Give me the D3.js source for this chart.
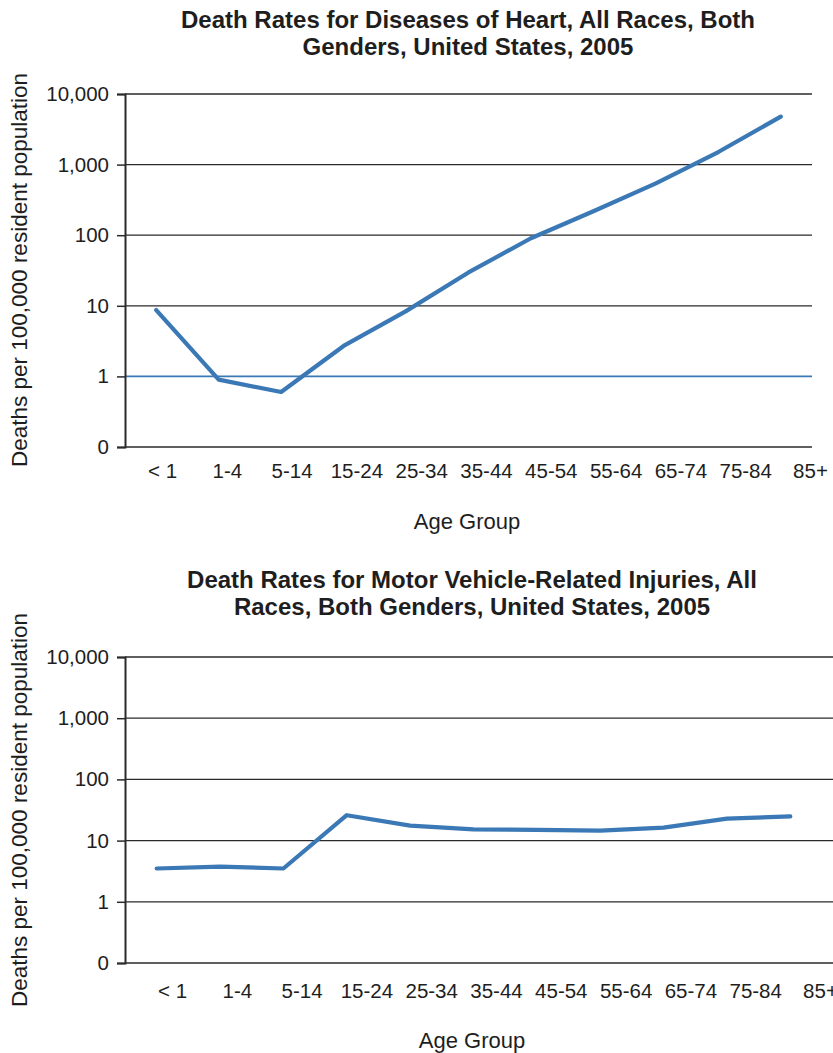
<!DOCTYPE html>
<html>
<head>
<meta charset="utf-8">
<script src="https://cdn.jsdelivr.net/npm/d3@7"></script>
<style>
  html, body { margin: 0; padding: 0; background: #fff; }
  svg { display: block; font-family: "Liberation Sans", Arial, Helvetica, sans-serif; }
</style>
</head>
<body>
<svg id="chart" width="833" height="1053"></svg>
<script>
// ---- Data ----
const ageGroups = ["< 1", "1-4", "5-14", "15-24", "25-34", "35-44", "45-54", "55-64", "65-74", "75-84", "85+"];
const heartRates = [8.7, 0.9, 0.6, 2.7, 8.4, 29.7, 90.5, 218.6, 541.1, 1506.3, 4778.4];
const motorRates = [3.5, 3.75, 3.5, 26.0, 17.6, 15.2, 15.0, 14.6, 16.3, 22.8, 24.8];
const yTickValues = [0.1, 1, 10, 100, 1000, 10000];
const yTickLabels = ["0", "1", "10", "100", "1,000", "10,000"];
const heartTitle = ["Death Rates for Diseases of Heart, All Races, Both", "Genders, United States, 2005"];
const motorTitle = ["Death Rates for Motor Vehicle-Related Injuries, All", "Races, Both Genders, United States, 2005"];
const yAxisTitle = "Deaths per 100,000 resident population";
const xAxisTitle = "Age Group";

const svg = d3.select("#chart");
const LINE_COLOR = "#3b78b6";
const GRID_COLOR = "#2a2a2a";
const TEXT_COLOR = "#1e1e1e";

function drawPanel(cfg) {
  const g = svg.append("g");
  const x = d3.scaleBand().domain(ageGroups).range([cfg.left, cfg.lineRight]);
  const xLab = d3.scalePoint().domain(ageGroups).range(cfg.labelRange);
  const y = d3.scaleLog().domain([0.1, 10000]).range([cfg.bottom, cfg.top]);

  // title
  g.append("text")
    .attr("x", cfg.titleX).attr("y", cfg.titleY)
    .attr("text-anchor", "middle")
    .attr("font-weight", "bold").attr("font-size", 24)
    .attr("fill", TEXT_COLOR)
    .selectAll("tspan").data(cfg.title).join("tspan")
    .attr("x", cfg.titleX).attr("dy", (d, i) => i === 0 ? 0 : 27)
    .text(d => d);

  // gridlines
  g.append("g").selectAll("line").data(yTickValues).join("line")
    .attr("x1", cfg.left).attr("x2", cfg.gridRight)
    .attr("y1", d => y(d)).attr("y2", d => y(d))
    .attr("stroke", d => (cfg.blueOne && d === 1) ? LINE_COLOR : GRID_COLOR)
    .attr("stroke-width", d => (cfg.blueOne && d === 1) ? 1.6 : 1.3);

  // y axis
  const yAxis = d3.axisLeft(y).tickValues(yTickValues)
    .tickFormat((d, i) => yTickLabels[i]).tickSize(8).tickPadding(8);
  const ya = g.append("g").attr("transform", `translate(${cfg.left},0)`).call(yAxis);
  ya.select(".domain").attr("stroke", GRID_COLOR).attr("stroke-width", 2);
  ya.selectAll(".tick line").attr("stroke", GRID_COLOR).attr("stroke-width", 1.5);
  ya.selectAll(".tick text").attr("font-size", 20.5).attr("fill", TEXT_COLOR)
    .attr("font-family", "'Liberation Sans', Arial, sans-serif");

  // x labels
  const xAxis = d3.axisBottom(xLab).tickSize(0).tickPadding(0);
  const xa = g.append("g").attr("transform", `translate(0,${cfg.bottom})`).call(xAxis);
  xa.select(".domain").remove();
  xa.selectAll(".tick text").attr("font-size", 20.5).attr("fill", TEXT_COLOR)
    .attr("font-family", "'Liberation Sans', Arial, sans-serif")
    .attr("dy", null).attr("y", cfg.labelDy);

  // y axis title
  g.append("text")
    .attr("transform", `translate(${cfg.yTitleX},${cfg.yTitleY}) rotate(-90)`)
    .attr("text-anchor", "middle").attr("font-size", 22.5).attr("fill", TEXT_COLOR)
    .text(yAxisTitle);

  // x axis title
  g.append("text")
    .attr("x", cfg.xTitleX).attr("y", cfg.xTitleY)
    .attr("text-anchor", "middle").attr("font-size", 22).attr("fill", TEXT_COLOR)
    .text(xAxisTitle);

  // line
  const line = d3.line()
    .x((d, i) => x(ageGroups[i]) + x.bandwidth() / 2)
    .y(d => y(d));
  g.append("path").datum(cfg.values)
    .attr("d", line).attr("fill", "none")
    .attr("stroke", LINE_COLOR).attr("stroke-width", 4.2)
    .attr("stroke-linejoin", "round").attr("stroke-linecap", "round");
}

drawPanel({
  title: heartTitle, titleX: 468, titleY: 28,
  values: heartRates,
  left: 125, lineRight: 812, gridRight: 812,
  top: 94, bottom: 447,
  labelRange: [162, 810], labelDy: 31,
  yTitleX: 27, yTitleY: 270,
  xTitleX: 467, xTitleY: 529,
  blueOne: true
});

drawPanel({
  title: motorTitle, titleX: 472, titleY: 588,
  values: motorRates,
  left: 125, lineRight: 822, gridRight: 833,
  top: 657, bottom: 963,
  labelRange: [172, 820], labelDy: 35,
  yTitleX: 27, yTitleY: 810,
  xTitleX: 472, xTitleY: 1048,
  blueOne: false
});
</script>
</body>
</html>
